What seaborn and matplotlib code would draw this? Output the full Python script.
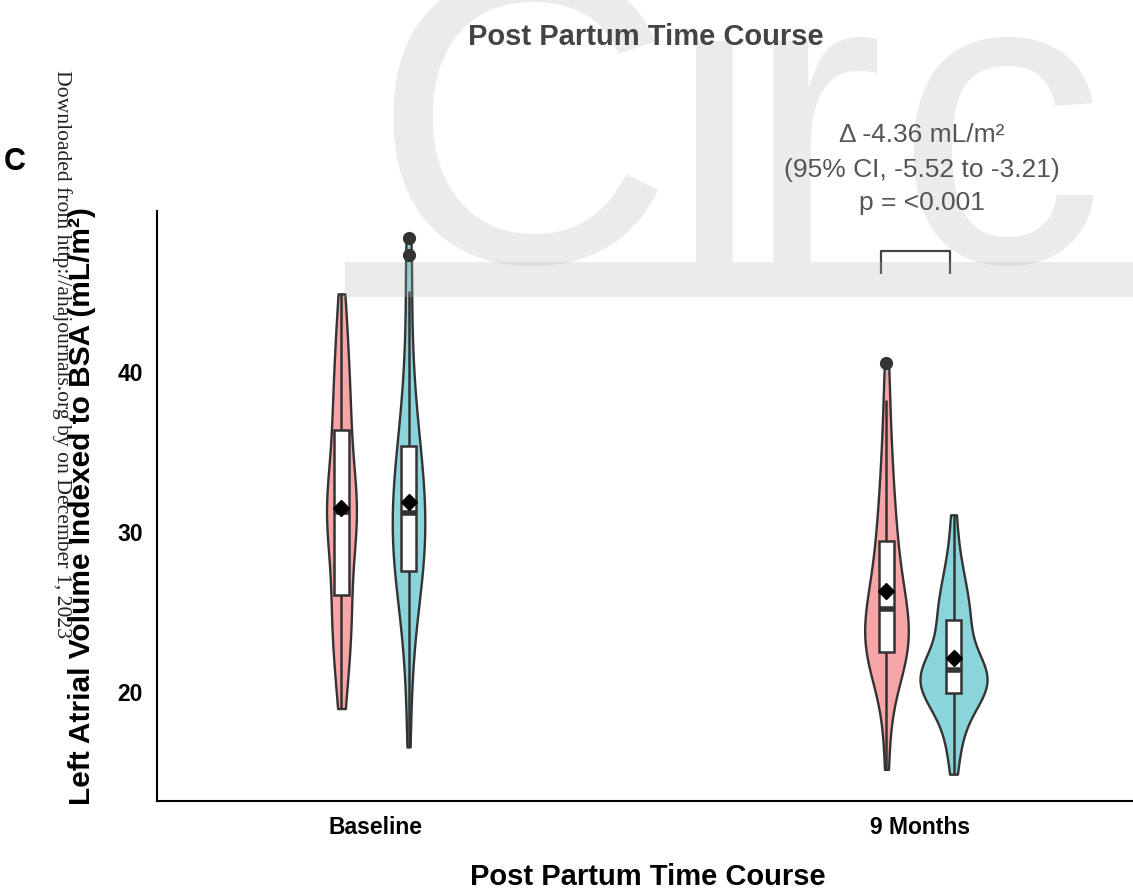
import numpy as np
import pandas as pd
import matplotlib
matplotlib.use("Agg")
import matplotlib.pyplot as plt
import seaborn as sns
from matplotlib.patches import Rectangle

# ---------------- data ----------------
time_points = ["Baseline", "9 Months"]
groups = ["Group A", "Group B"]

baseline_a = [18.9, 20.1, 21.2, 22.05, 22.8, 23.45, 24.05, 24.6, 25.1, 25.55, 26.0,
              27.0, 27.9, 28.6, 29.2, 29.7, 30.1, 30.5, 30.8, 31.0, 31.2,
              31.4, 31.7, 32.0, 32.4, 32.9, 33.4, 34.0, 34.7, 35.5, 36.3,
              36.85, 37.45, 38.1, 38.8, 39.55, 40.4, 41.35, 42.4, 43.6, 44.8]
baseline_b = [16.5, 19.8, 21.8, 23.2, 24.2, 25.0, 25.7, 26.3, 26.8, 27.2, 27.5,
              27.9, 28.3, 28.7, 29.1, 29.5, 29.8, 30.2, 30.5, 30.8, 31.1,
              31.5, 31.9, 32.3, 32.7, 33.1, 33.5, 33.9, 34.4, 34.8, 35.3,
              35.9, 36.6, 37.4, 38.3, 39.4, 40.8, 42.6, 45.0, 47.2, 48.3]
month9_a = [15.1, 17.8, 19.3, 20.3, 21.0, 21.5, 21.8, 22.0, 22.15, 22.3, 22.4,
            22.7, 23.0, 23.2, 23.5, 23.8, 24.0, 24.3, 24.6, 24.8, 25.1,
            25.35, 25.65, 26.0, 26.35, 26.75, 27.2, 27.7, 28.2, 28.75, 29.35,
            29.9, 30.5, 31.2, 32.0, 32.9, 33.9, 35.0, 36.4, 38.2, 40.5]
month9_b = [14.8, 16.1, 17.0, 17.7, 18.25, 18.7, 19.05, 19.35, 19.6, 19.8, 19.9,
            20.05, 20.2, 20.35, 20.5, 20.65, 20.8, 20.95, 21.1, 21.2, 21.3,
            21.45, 21.6, 21.8, 22.05, 22.4, 22.85, 23.3, 23.7, 24.05, 24.4,
            24.75, 25.1, 25.45, 25.85, 26.3, 26.8, 27.4, 28.1, 29.2, 31.0]

y_ticks = [20, 30, 40]
title_text = "Post Partum Time Course"
xlabel_text = "Post Partum Time Course"
ylabel_text = "Left Atrial Volume Indexed to BSA (mL/m²)"
annot_lines = ["Δ -4.36 mL/m²", "(95% CI, -5.52 to -3.21)", "p = <0.001"]
watermark_letters = ["C", "i", "r", "c", "u"]
download_text = "Downloaded from http://ahajournals.org by on December 1, 2023"

rows = []
for t, g, vals in [("Baseline", groups[0], baseline_a), ("Baseline", groups[1], baseline_b),
                   ("9 Months", groups[0], month9_a), ("9 Months", groups[1], month9_b)]:
    for v in vals:
        rows.append({"time": t, "group": g, "value": v})
df = pd.DataFrame(rows)

# ---------------- figure ----------------
sns.set_style("white")
plt.rcParams["font.family"] = ["Liberation Sans", "DejaVu Sans"]

W, H = 1133, 895
fig = plt.figure(figsize=(W / 100, H / 100), dpi=100)
ax = fig.add_axes([157 / W, (H - 802) / H, 981 / W, 590 / H])

pal = {groups[0]: "#F8A5A8", groups[1]: "#8AD5DC"}
sns.violinplot(data=df, x="time", y="value", hue="group", order=time_points,
               hue_order=groups, palette=pal, saturation=1, cut=0,
               density_norm="area", common_norm=True, width=0.246, inner=None,
               linewidth=1.7, linecolor="#333333", bw_adjust=0.8, legend=False, ax=ax)
sns.boxplot(data=df, x="time", y="value", hue="group", order=time_points,
            hue_order=groups, palette={groups[0]: "white", groups[1]: "white"},
            saturation=1, width=0.246, gap=0.776, linewidth=1.8,
            linecolor="#333333", showcaps=False, legend=False, ax=ax,
            medianprops=dict(linewidth=4, color="#333333"),
            flierprops=dict(marker="o", markersize=8.5, markerfacecolor="#333333",
                            markeredgecolor="#333333"),
            showmeans=True,
            meanprops=dict(marker="D", markersize=8, markerfacecolor="black",
                           markeredgecolor="black"))

ax.set_xlim(-0.4, 1.4)
ax.set_ylim(13.125, 49.975)
ax.set_yticks(y_ticks)
ax.set_xlabel("")
ax.set_ylabel("")
for s in ["top", "right"]:
    ax.spines[s].set_visible(False)
for s in ["left", "bottom"]:
    ax.spines[s].set_linewidth(1.5)
    ax.spines[s].set_color("black")
ax.tick_params(axis="both", length=4, width=1.2, color="#333333",
               labelsize=16.5, labelcolor="black", pad=6)
for lab in ax.get_xticklabels() + ax.get_yticklabels():
    lab.set_fontweight("bold")

# significance bracket
bx0, bx1, by_top, by_leg = 0.928, 1.055, 47.48, 46.05
ax.plot([bx0, bx0, bx1, bx1], [by_leg, by_top, by_top, by_leg], color="#444444",
        lw=1.6, clip_on=False, solid_capstyle="butt")

# ---------------- watermark overlay ----------------
wm_color = (180 / 255, 180 / 255, 180 / 255, 0.265)
letter_x = [372, 668, 745, 895, 1108]
for ch, xp in zip(watermark_letters, letter_x):
    fig.text(xp / W, (H - 262) / H, ch, fontsize=301, color=wm_color,
             ha="left", va="baseline", zorder=1, family="Liberation Sans")
fig.patches.append(Rectangle((345 / W, (H - 298) / H), (W - 345) / W, 35 / H,
                             transform=fig.transFigure, facecolor=wm_color,
                             edgecolor="none", zorder=1))

# ---------------- texts ----------------
fig.text(646 / W, 1 - 37 / H, title_text, fontsize=21, fontweight="bold",
         color="#444444", ha="center", va="center", zorder=5)
fig.text(648 / W, 1 - 877 / H, xlabel_text, fontsize=21, fontweight="bold",
         color="black", ha="center", va="center", zorder=5)
fig.text(82 / W, 1 - 506 / H, ylabel_text, fontsize=21.5, fontweight="bold",
         color="black", ha="center", va="center", rotation=90, zorder=5)
fig.text(15 / W, 1 - 162 / H, "C", fontsize=22, fontweight="bold",
         color="black", ha="center", va="center", zorder=5)
fig.text(62 / W, 1 - 70 / H, download_text, fontsize=15.6, color="#222222",
         family="Liberation Serif", rotation=-90, ha="center", va="top", zorder=6)

for line, yp in zip(annot_lines, [135, 170, 203]):
    fig.text(922 / W, 1 - yp / H, line, fontsize=19, color="#555555",
             ha="center", va="center", zorder=5)

fig.savefig("out.png", dpi=100)
